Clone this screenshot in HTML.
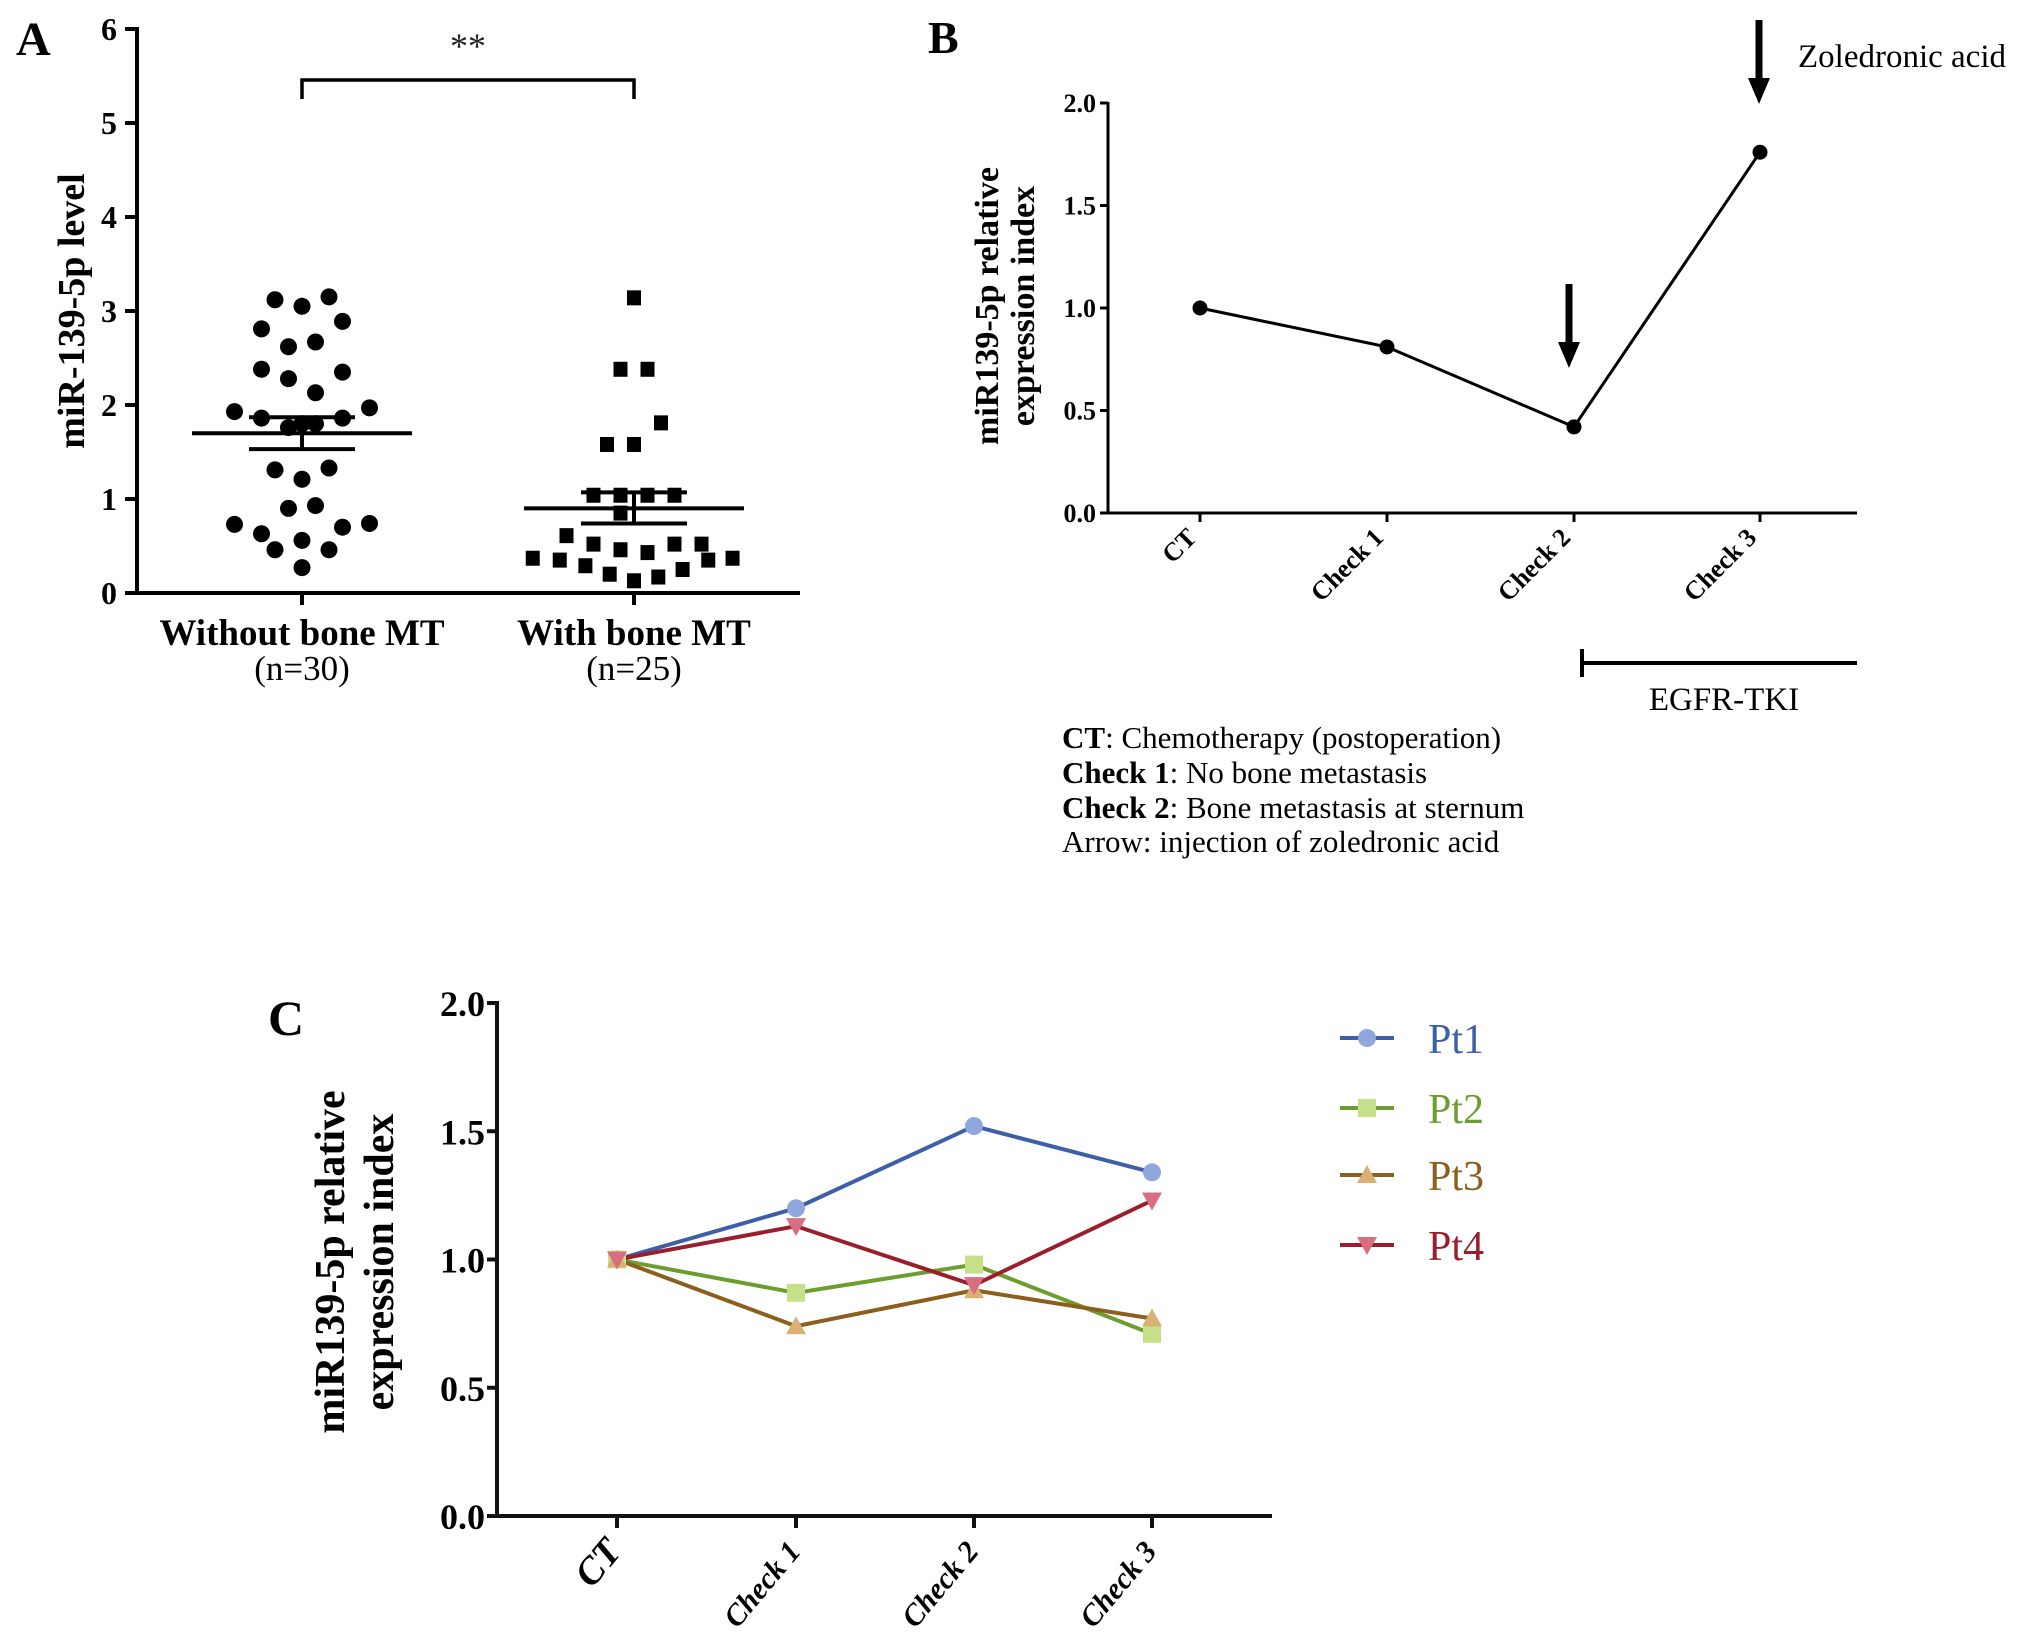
<!DOCTYPE html>
<html><head><meta charset="utf-8"><style>
html,body{margin:0;padding:0;background:#fff}
svg{display:block}
text{font-family:"Liberation Serif",serif}
</style></head><body>
<svg id="fig" width="2031" height="1641" viewBox="0 0 2031 1641" xmlns="http://www.w3.org/2000/svg">
<g id="pA"></g>
<g id="pB"></g>
<g id="pC"></g>
</svg>
<script>
// ---------- Panel A data ----------
const aCategories = ["Without bone MT", "With bone MT"];
const aCounts = ["(n=30)", "(n=25)"];
const aTicks = [0,1,2,3,4,5,6];
const aGroup1 = [3.12,3.05,3.15,2.81,2.89,2.62,2.67,2.38,2.35,2.28,2.13,1.93,1.86,1.76,1.80,1.80,1.86,1.97,1.31,1.33,1.21,0.90,0.93,0.73,0.63,0.70,0.74,0.46,0.56,0.46,0.27];
const aGroup1Jit = [-2,0,2,-3,3,-1,1,-3,3,-1,1,-5,-3,-1,0,1,3,5,-2,2,0,-1,1,-5,-3,3,5,-2,0,2,0];
const aGroup2 = [3.14,2.38,2.38,1.81,1.58,1.58,1.04,1.04,1.04,1.04,0.85,0.61,0.52,0.46,0.43,0.52,0.52,0.37,0.35,0.29,0.20,0.13,0.17,0.25,0.35,0.37];
const aGroup2Jit = [0,-1,1,2,-2,0,-3,-1,1,3,-1,-5,-3,-1,1,3,5,-7.5,-5.5,-3.6,-1.8,0,1.8,3.6,5.5,7.3];
const aMeans = [1.70, 0.90];
const aSemHi = [1.87, 1.07];
const aSemLo = [1.53, 0.74];
// ---------- Panel B data ----------
const bCategories = ["CT","Check 1","Check 2","Check 3"];
const bValues = [1.0, 0.81, 0.42, 1.76];
const bTicks = ["0.0","0.5","1.0","1.5","2.0"];
// ---------- Panel C data ----------
const cCategories = ["CT","Check 1","Check 2","Check 3"];
const cTicks = ["0.0","0.5","1.0","1.5","2.0"];
const cPt1 = [1.0, 1.20, 1.52, 1.34];
const cPt2 = [1.0, 0.87, 0.98, 0.71];
const cPt3 = [1.0, 0.74, 0.88, 0.77];
const cPt4 = [1.0, 1.13, 0.90, 1.23];
const cNames = ["Pt1","Pt2","Pt3","Pt4"];

const NS="http://www.w3.org/2000/svg";
function mk(parent, tag, attrs, txt){
  const e=document.createElementNS(NS,tag);
  for(const k in attrs) e.setAttribute(k, attrs[k]);
  if(txt!==undefined) e.textContent=txt;
  parent.appendChild(e); return e;
}
let el;
// ================= Panel A =================
const A=document.getElementById('pA');
const ax0=137, ay0=593, ayPer=94, axEnd=800, aCat=[302,634], aJ=13.5;
const ay=v=>ay0-v*ayPer;
el=mk(A,'text',{x:16,y:55,'font-size':48,'font-weight':'bold'},'A');


el=mk(A,'line',{x1:ax0,y1:ay(6)-2,x2:ax0,y2:ay0,stroke:'#000','stroke-width':4});


el=mk(A,'line',{x1:ax0-2,y1:ay0,x2:axEnd,y2:ay0,stroke:'#000','stroke-width':4});


aTicks.forEach(t=>{
  el=mk(A,'line',{x1:ax0-12,y1:ay(t),x2:ax0,y2:ay(t),stroke:'#000','stroke-width':4});
  
  
  el=mk(A,'text',{x:ax0-20,y:ay(t)+11,'font-size':32,'font-weight':'bold','text-anchor':'end'},String(t));
  
  
});
aCategories.forEach((c,i)=>{
  el=mk(A,'line',{x1:aCat[i],y1:ay0,x2:aCat[i],y2:ay0+12,stroke:'#000','stroke-width':4});
  
  
  el=mk(A,'text',{x:aCat[i],y:645,'font-size':37,'font-weight':'bold','text-anchor':'middle'},c);
  
  
  el=mk(A,'text',{x:aCat[i],y:680,'font-size':35,'text-anchor':'middle'},aCounts[i]);
  
  
});
el=mk(A,'text',{x:0,y:0,'font-size':38,'font-weight':'bold','text-anchor':'middle',transform:'translate(84,311) rotate(-90)'},'miR-139-5p level');


aGroup1.forEach((v,i)=>{
  el=mk(A,'circle',{cx:aCat[0]+aGroup1Jit[i]*aJ,cy:ay(v),r:8.5,fill:'#000'});
  
  
});
aGroup2.forEach((v,i)=>{
  el=mk(A,'rect',{x:aCat[1]+aGroup2Jit[i]*aJ-7,y:ay(v)-7.5,width:14,height:15,fill:'#000'});
  
  
});
aMeans.forEach((m,i)=>{
  const cx=aCat[i];
  el=mk(A,'line',{x1:cx-110,y1:ay(m),x2:cx+110,y2:ay(m),stroke:'#000','stroke-width':4});
  
  
  el=mk(A,'line',{x1:cx,y1:ay(aSemHi[i]),x2:cx,y2:ay(aSemLo[i]),stroke:'#000','stroke-width':4});
  
  
  el=mk(A,'line',{x1:cx-53,y1:ay(aSemHi[i]),x2:cx+53,y2:ay(aSemHi[i]),stroke:'#000','stroke-width':4});
  
  
  el=mk(A,'line',{x1:cx-53,y1:ay(aSemLo[i]),x2:cx+53,y2:ay(aSemLo[i]),stroke:'#000','stroke-width':4});
  
  
});
el=mk(A,'path',{d:`M${aCat[0]} 99 V80 H${aCat[1]} V99`,fill:'none',stroke:'#000','stroke-width':3.5});


el=mk(A,'text',{x:(aCat[0]+aCat[1])/2,y:58,'font-size':36,'text-anchor':'middle',fill:'#222'},'**');



// ================= Panel B =================
const B=document.getElementById('pB');
const bx0=1108, by0=513, byPer=205, bxEnd=1857, bCat=[1200,1387,1574,1760];
const byf=v=>by0-v*byPer;
el=mk(B,'text',{x:928,y:53,'font-size':46,'font-weight':'bold'},'B');


el=mk(B,'line',{x1:bx0,y1:byf(2)-1,x2:bx0,y2:by0,stroke:'#000','stroke-width':3});


el=mk(B,'line',{x1:bx0,y1:by0,x2:bxEnd,y2:by0,stroke:'#000','stroke-width':3});


bTicks.forEach(t=>{
  const y=byf(parseFloat(t));
  el=mk(B,'line',{x1:bx0-8,y1:y,x2:bx0,y2:y,stroke:'#000','stroke-width':3});
  
  
  el=mk(B,'text',{x:bx0-12,y:y+9,'font-size':26,'font-weight':'bold','text-anchor':'end','font-family':'Liberation Sans, sans-serif'},t);
  
  
});
bCategories.forEach((c,i)=>{
  el=mk(B,'line',{x1:bCat[i],y1:by0,x2:bCat[i],y2:by0+9,stroke:'#000','stroke-width':3});
  
  
  el=mk(B,'text',{x:0,y:0,'font-size':26,'font-weight':'bold','text-anchor':'end','font-family':'Liberation Sans, sans-serif',transform:`translate(${bCat[i]-2},${by0+26}) rotate(-45)`},c);
  
  
});
el=mk(B,'text',{x:0,y:0,'font-size':34,'font-weight':'bold','text-anchor':'middle',transform:'translate(998,306) rotate(-90)'},'miR139-5p relative');


el=mk(B,'text',{x:0,y:0,'font-size':34,'font-weight':'bold','text-anchor':'middle',transform:'translate(1034,306) rotate(-90)'},'expression index');


el=mk(B,'polyline',{points:bValues.map((v,i)=>`${bCat[i]},${byf(v)}`).join(' '),fill:'none',stroke:'#000','stroke-width':3});


bValues.forEach((v,i)=>{
  el=mk(B,'circle',{cx:bCat[i],cy:byf(v),r:7.5,fill:'#000'});
  
  
});
function arrow(x,y1,y2,name){
  el=mk(B,'path',{d:`M${x-3.5} ${y1} H${x+3.5} V${y2-26} H${x+11} L${x} ${y2} L${x-11} ${y2-26} H${x-3.5} Z`,fill:'#000'});
  
  
}
arrow(1569,284,368,'arrow-check-2');
arrow(1759,20,104,'arrow-check-3');
el=mk(B,'text',{x:1798,y:67,'font-size':33},'Zoledronic acid');


el=mk(B,'path',{d:'M1582 649 V677 M1582 663 H1857',fill:'none',stroke:'#000','stroke-width':4});


el=mk(B,'text',{x:1724,y:710,'font-size':33,'text-anchor':'middle'},'EGFR-TKI');


const notes=[["CT",": Chemotherapy (postoperation)"],["Check 1",": No bone metastasis"],["Check 2",": Bone metastasis at sternum"],["","Arrow: injection of zoledronic acid"]];
const noteY=[748,783,818,852];
notes.forEach((n,i)=>{
  el=mk(B,'text',{x:1062,y:noteY[i],'font-size':31});
  
  
  if(n[0]){const b=mk(el,'tspan',{'font-weight':'bold'},n[0]);}
  mk(el,'tspan',{},n[1]);
});

// ================= Panel C =================
const C=document.getElementById('pC');
const cx0=497, cy0=1516, cyPer=256.5, cxEnd=1272, cCat=[617,796,974,1152];
const cyf=v=>cy0-v*cyPer;
el=mk(C,'text',{x:268,y:1035,'font-size':50,'font-weight':'bold'},'C');


el=mk(C,'line',{x1:cx0,y1:cyf(2)-2,x2:cx0,y2:cy0,stroke:'#111','stroke-width':4});


el=mk(C,'line',{x1:cx0-2,y1:cy0,x2:cxEnd,y2:cy0,stroke:'#111','stroke-width':4});


cTicks.forEach(t=>{
  const y=cyf(parseFloat(t));
  el=mk(C,'line',{x1:cx0-10,y1:y,x2:cx0,y2:y,stroke:'#111','stroke-width':4});
  
  
  el=mk(C,'text',{x:cx0-12,y:y+13,'font-size':36,'font-weight':'bold','text-anchor':'end'},t);
  
  
});
cCategories.forEach((c,i)=>{
  el=mk(C,'line',{x1:cCat[i],y1:cy0,x2:cCat[i],y2:cy0+12,stroke:'#111','stroke-width':4});
  
  
  el=mk(C,'text',{x:0,y:0,'font-size':c==='CT'?38:30,'font-weight':'bold','font-style':'italic','text-anchor':'end',transform:`translate(${cCat[i]+6},${cy0+36}) rotate(-50)`},c);
  
  
});
el=mk(C,'text',{x:0,y:0,'font-size':42,'font-weight':'bold','text-anchor':'middle',transform:'translate(344,1262) rotate(-90)'},'miR139-5p relative');


el=mk(C,'text',{x:0,y:0,'font-size':42,'font-weight':'bold','text-anchor':'middle',transform:'translate(393,1262) rotate(-90)'},'expression index');


const cSeries=[cPt1,cPt2,cPt3,cPt4];
const lineCol=['#3e5ea8','#6b9e2e','#8c5f1c','#9a1e2c'];
const markCol=['#8fa7dc','#c6e08a','#d9b273','#d86f80'];
const legY=[1038,1108,1175,1245];
function marker(parent,k,x,y){
  let m;
  if(k===0) m=mk(parent,'circle',{cx:x,cy:y,r:9,fill:markCol[k]});
  else if(k===1) m=mk(parent,'rect',{x:x-9,y:y-9,width:18,height:18,fill:markCol[k]});
  else if(k===2) m=mk(parent,'path',{d:`M${x} ${y-10} L${x+10} ${y+8} L${x-10} ${y+8} Z`,fill:markCol[k]});
  else m=mk(parent,'path',{d:`M${x} ${y+10} L${x+10} ${y-8} L${x-10} ${y-8} Z`,fill:markCol[k]});
  return m;
}
cSeries.forEach((s,k)=>{
  el=mk(C,'polyline',{points:s.map((v,i)=>`${cCat[i]},${cyf(v)}`).join(' '),fill:'none',stroke:lineCol[k],'stroke-width':4});
  
  
});
cSeries.forEach((s,k)=>{
  s.forEach((v,i)=>{
    el=marker(C,k,cCat[i],cyf(v));
    
    
  });
});
cNames.forEach((n,k)=>{
  el=mk(C,'line',{x1:1340,y1:legY[k],x2:1394,y2:legY[k],stroke:lineCol[k],'stroke-width':4});
  
  
  el=marker(C,k,1367,legY[k]);
  
  
  el=mk(C,'text',{x:1428,y:legY[k]+15,'font-size':42,fill:lineCol[k]},n);
  
  
});
</script>
</body></html>
